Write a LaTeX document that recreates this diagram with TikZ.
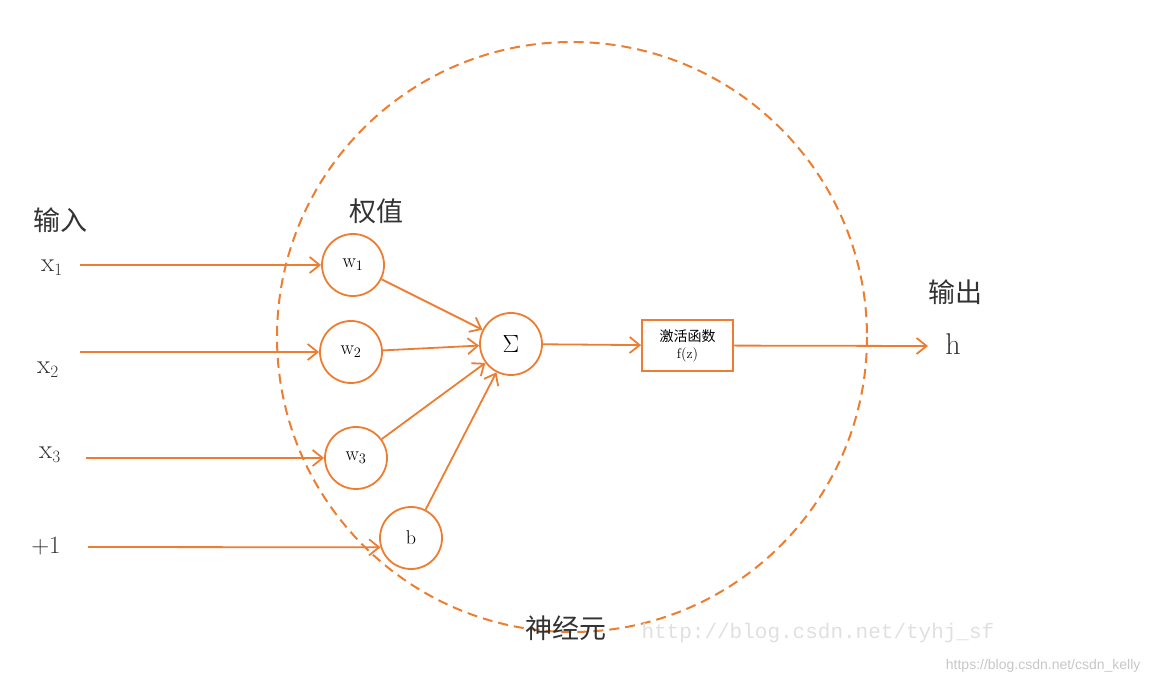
\documentclass[tikz,border=0pt]{standalone}
\usepackage{fontspec}
\newfontfamily\cjk{Noto Sans CJK SC}
\newfontfamily\wmmono{Liberation Mono}
\newfontfamily\wmsans{Liberation Sans}
\usetikzlibrary{arrows.meta}
\definecolor{neuronorange}{RGB}{237,125,49}

\begin{document}
\begin{tikzpicture}[
        x=1pt, y=-1pt,
        wnode/.style={draw=neuronorange, circle, minimum size=62pt, inner sep=0pt, line width=1.8pt, font=\fontsize{20}{20}\selectfont},
        link/.style={draw=neuronorange, line width=1.8pt, -{Straight Barb[length=10pt,width=16pt,line width=1.8pt]}},
        cjktext/.style={font=\cjk\fontsize{27}{27}\selectfont, text=black!80},
        invar/.style={font=\fontsize{27}{27}\selectfont, text=black!80},
    ]
    \useasboundingbox (0,0) rectangle (1152,684);

    % neuron boundary
    \draw[neuronorange, line width=2pt, dash pattern=on 10pt off 6pt] (572,337) circle (295);

    % labels
    \node[cjktext](inlab) at (60,220){输入};
    \node[cjktext](wlab) at (376,211){权值};
    \node[cjktext](outlab) at (955,292){输出};
    \node[cjktext](neulab) at (566,628){神经元};

    % inputs
    \node[invar](x1) at (52,268){$\mathrm{x}_{1}$};
    \node[invar](x2) at (48,370){$\mathrm{x}_{2}$};
    \node[invar](x3) at (50,455){$\mathrm{x}_{3}$};
    \node[invar, font=\fontsize{30}{30}\selectfont](one) at (46,546){$+1$};
    \coordinate (s1) at (80,265);
    \coordinate (s2) at (80,352);
    \coordinate (s3) at (86,458);
    \coordinate (s4) at (88,547);

    % weights and sum
    \node[wnode](w1) at (353,265){$\mathrm{w}_{1}$};
    \node[wnode](w2) at (351,352){$\mathrm{w}_{2}$};
    \node[wnode](w3) at (356,458){$\mathrm{w}_{3}$};
    \node[wnode](b) at (411,538){$\mathrm{b}$};
    \node[wnode, font=\fontsize{28}{28}\selectfont](sum) at (511,344){$\Sigma$};

    % activation
    \node[draw=neuronorange, line width=1.8pt, minimum width=91pt, minimum height=51pt, inner sep=0pt, align=center, font=\fontsize{14}{17}\selectfont](act) at (687.5,345.5){{\cjk 激活函数}\\$\mathrm{f(z)}$};
    \coordinate (hend) at (928,346);
    \node[font=\fontsize{30}{30}\selectfont, text=black!80](h) at (953,344){$\mathrm{h}$};

    \draw[link] (s1) -- (w1);
    \draw[link] (s2) -- (w2);
    \draw[link] (s3) -- (w3);
    \draw[link] (s4) -- (b.197);
    \draw[link] (w1) -- (sum);
    \draw[link] (w2) -- (sum);
    \draw[link] (w3) -- (sum);
    \draw[link] (b) -- (sum);
    \draw[link] (sum) -- (act);
    \draw[link] (act) -- (hend);

    % watermarks
    \node[font=\wmmono\fontsize{21}{21}\selectfont, text=black!12, anchor=west](wm1) at (638,633){http://blog.csdn.net/tyhj\_sf};
    \node[font=\wmsans\fontsize{14}{14}\selectfont, text=black!22, anchor=east](wm2) at (1144,666){https://blog.csdn.net/csdn\_kelly};

    \end{tikzpicture}
\end{document}
